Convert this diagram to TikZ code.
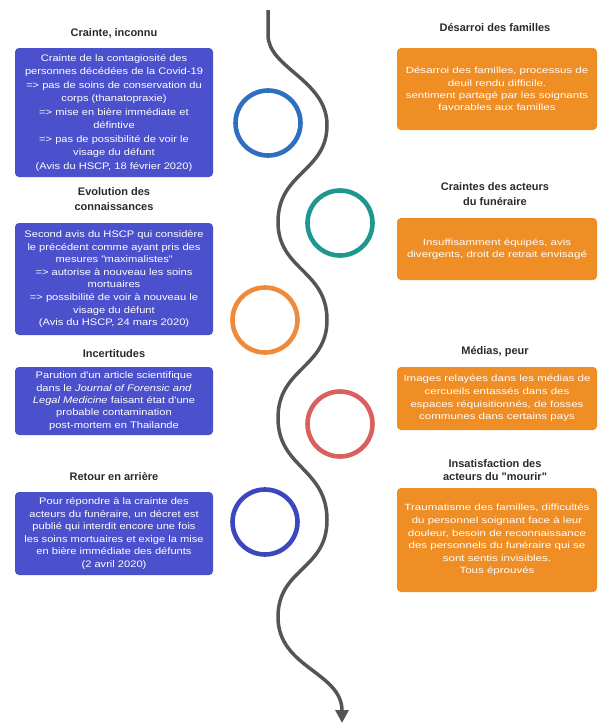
\documentclass[tikz,border=0pt]{standalone}
\usepackage{fontspec}
\setmainfont{Liberation Sans}
\newfontfamily\bfontB[FakeStretch=1.17]{Liberation Sans}
\newfontfamily\bfontO[FakeStretch=1.28]{Liberation Sans}
\usetikzlibrary{arrows.meta}
\definecolor{boxblue}{HTML}{4B50CC}
\definecolor{boxorange}{HTML}{EF8E24}
\definecolor{wavegray}{HTML}{555555}
\definecolor{cblue}{HTML}{2E6FC0}
\definecolor{cteal}{HTML}{1E978F}
\definecolor{corange}{HTML}{EE8A3A}
\definecolor{cred}{HTML}{D9605E}
\definecolor{cindigo}{HTML}{3C46BF}
\definecolor{titlegray}{HTML}{2B2B2B}
\begin{document}
\begin{tikzpicture}[x=1pt,y=-1pt,
 bbox/.style={fill=boxblue, rounded corners=4pt, minimum width=198pt, inner sep=0pt, text=white, align=center, font=\bfontB\fontsize{9.5}{#1}\selectfont},
 obox/.style={fill=boxorange, rounded corners=4pt, minimum width=200pt, inner sep=0pt, text=white, align=center, font=\bfontO\fontsize{9}{#1}\selectfont},
 ttl/.style={text=titlegray, align=center, font=\bfseries\fontsize{11}{#1}\selectfont},
 ring/.style={draw=#1, line width=4.6pt, circle, minimum size=65pt, inner sep=0pt},
 wavepath/.style={draw=wavegray, line width=3.5pt, -{Triangle[length=13pt,width=13pt]}}]
\useasboundingbox[fill=white] (0,0) rectangle (603,728);

% wave
\coordinate (w0) at (268,10);
\coordinate (w1) at (268,35);
\coordinate (r1) at (327,125);
\coordinate (l1) at (278,222);
\coordinate (r2) at (327,320);
\coordinate (l2) at (278,418);
\coordinate (r3) at (327,520);
\coordinate (l3) at (278,617);
\coordinate (wend) at (342,723);
\draw[wavepath] (w0) -- (w1)
  .. controls (268,68) and (327,80) .. (r1)
  .. controls (327,172) and (278,172) .. (l1)
  .. controls (278,270) and (327,270) .. (r2)
  .. controls (327,368) and (278,368) .. (l2)
  .. controls (278,468) and (327,468) .. (r3)
  .. controls (327,570) and (278,568) .. (l3)
  .. controls (278,668) and (342,672) .. (wend);

% rings
\node[ring=cblue] (c1) at (268,123) {};
\node[ring=cteal] (c2) at (340,223) {};
\node[ring=corange] (c3) at (265,320) {};
\node[ring=cred] (c4) at (340,424) {};
\node[ring=cindigo] (c5) at (265,522) {};

% left titles
\node[ttl=13] (t1) at (114,33) {Crainte, inconnu};
\node[ttl=15] (t2) at (114,199) {Evolution des\\connaissances};
\node[ttl=13] (t3) at (114,354) {Incertitudes};
\node[ttl=13] (t4) at (114,477) {Retour en arrière};

% right titles
\node[ttl=13] (u1) at (495,28) {Désarroi des familles};
\node[ttl=15] (u2) at (495,194) {Craintes des acteurs\\du funéraire};
\node[ttl=13] (u3) at (495,352) {Médias, peur};
\node[ttl=13.5] (u4) at (495,470) {Insatisfaction des\\acteurs du \textquotedbl mourir\textquotedbl};

% left boxes
\node[bbox=13.5, minimum height=129pt] (b1) at (114,112.5) {Crainte de la contagiosité des\\personnes décédées de la Covid-19\\=> pas de soins de conservation du\\corps (thanatopraxie)\\=> mise en bière immédiate et\\défintive\\=> pas de possibilité de voir le\\visage du défunt\\(Avis du HSCP, 18 février 2020)};
\node[bbox=12.6, minimum height=112pt] (b2) at (114,279) {Second avis du HSCP qui considère\\le précédent comme ayant pris des\\mesures \textquotedbl maximalistes\textquotedbl\\=> autorise à nouveau les soins\\mortuaires\\=> possibilité de voir à nouveau le\\visage du défunt\\(Avis du HSCP, 24 mars 2020)};
\node[bbox=12.3, minimum height=68pt] (b3) at (114,401) {Parution d'un article scientifique\\dans le \textit{Journal of Forensic and}\\\textit{Legal Medicine} faisant état d'une\\probable contamination\\post-mortem en Thailande};
\node[bbox=12.5, minimum height=83pt] (b4) at (114,533.5) {Pour  répondre à la crainte des\\acteurs du funéraire, un décret est\\publié qui interdit encore une fois\\les soins mortuaires et exige la mise\\en bière immédiate des défunts\\(2 avril 2020)};

% right boxes
\node[obox=12.3, minimum height=82pt] (o1) at (497,89) {Désarroi des familles, processus de\\deuil rendu difficile.\\sentiment partagé par les soignants\\favorables aux familles};
\node[obox=12, minimum height=62pt] (o2) at (497,249) {Insuffisamment équipés, avis\\divergents, droit de retrait envisagé};
\node[obox=12.7, minimum height=63pt] (o3) at (497,398.5) {Images relayées dans les médias de\\cercueils entassés dans des\\espaces réquisitionnés, de fosses\\communes dans certains pays};
\node[obox=12.6, minimum height=104pt] (o4) at (497,540) {Traumatisme des familles, difficultés\\du personnel soignant face à  leur\\douleur, besoin de reconnaissance\\des personnels du funéraire qui se\\sont sentis invisibles.\\Tous éprouvés};
\end{tikzpicture}
\end{document}
